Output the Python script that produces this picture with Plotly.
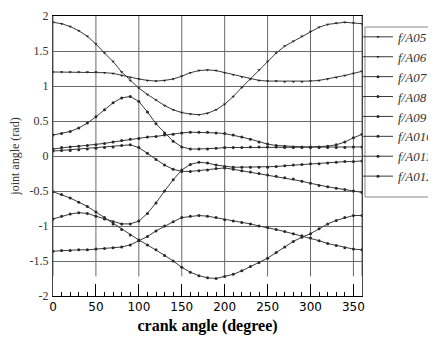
import plotly.graph_objects as go

crank = list(range(0, 361, 10))

theta5 = [1.91, 1.89, 1.85, 1.79, 1.71, 1.60, 1.47, 1.35, 1.20, 1.08, 0.97, 0.88, 0.80, 0.72, 0.66, 0.62, 0.60, 0.59, 0.61,
          0.66, 0.74, 0.85, 0.98, 1.10, 1.23, 1.35, 1.47, 1.57, 1.64, 1.71, 1.78, 1.84, 1.88, 1.90, 1.91, 1.90, 1.89]
theta6 = [1.20, 1.20, 1.20, 1.20, 1.20, 1.20, 1.19, 1.18, 1.15, 1.12, 1.10, 1.08, 1.07, 1.08, 1.10, 1.14, 1.19, 1.22, 1.23,
          1.22, 1.19, 1.16, 1.13, 1.10, 1.08, 1.07, 1.07, 1.06, 1.06, 1.06, 1.07, 1.08, 1.10, 1.12, 1.15, 1.18, 1.21]
theta7 = [0.30, 0.32, 0.35, 0.40, 0.47, 0.56, 0.66, 0.76, 0.83, 0.85, 0.78, 0.63, 0.46, 0.33, 0.21, 0.13, 0.10, 0.10, 0.10,
          0.11, 0.12, 0.12, 0.12, 0.13, 0.13, 0.13, 0.13, 0.12, 0.12, 0.12, 0.12, 0.12, 0.12, 0.12, 0.12, 0.13, 0.13]
theta8 = [-0.90, -0.86, -0.83, -0.81, -0.82, -0.86, -0.90, -0.94, -0.97, -0.97, -0.93, -0.82, -0.67, -0.50, -0.34, -0.20,
          -0.12, -0.09, -0.10, -0.13, -0.15, -0.16, -0.16, -0.16, -0.16, -0.16, -0.15, -0.14, -0.13, -0.12, -0.11, -0.11,
          -0.10, -0.09, -0.08, -0.08, -0.07]
theta9 = [0.10, 0.12, 0.13, 0.14, 0.15, 0.16, 0.18, 0.20, 0.22, 0.24, 0.25, 0.27, 0.28, 0.30, 0.31, 0.33, 0.34, 0.34, 0.34,
          0.33, 0.32, 0.30, 0.27, 0.24, 0.20, 0.17, 0.15, 0.14, 0.13, 0.13, 0.13, 0.13, 0.14, 0.16, 0.20, 0.26, 0.31]
theta10 = [0.07, 0.08, 0.08, 0.09, 0.10, 0.11, 0.12, 0.13, 0.15, 0.16, 0.12, 0.04, -0.05, -0.13, -0.19, -0.22, -0.22, -0.21,
           -0.20, -0.18, -0.17, -0.19, -0.21, -0.23, -0.25, -0.27, -0.29, -0.31, -0.33, -0.36, -0.39, -0.42, -0.44, -0.46,
           -0.48, -0.50, -0.52]
theta11 = [-0.51, -0.55, -0.60, -0.66, -0.72, -0.80, -0.88, -0.97, -1.05, -1.13, -1.20, -1.27, -1.34, -1.42, -1.50, -1.59,
           -1.66, -1.71, -1.74, -1.75, -1.72, -1.69, -1.64, -1.58, -1.52, -1.46, -1.38, -1.30, -1.22, -1.16, -1.11, -1.04,
           -0.97, -0.92, -0.88, -0.85, -0.85]
theta12 = [-1.36, -1.35, -1.35, -1.34, -1.34, -1.33, -1.32, -1.31, -1.30, -1.27, -1.21, -1.15, -1.07, -1.00, -0.94, -0.88,
           -0.86, -0.85, -0.86, -0.88, -0.91, -0.93, -0.95, -0.97, -1.00, -1.02, -1.05, -1.08, -1.11, -1.14, -1.17, -1.21,
           -1.25, -1.28, -1.31, -1.33, -1.34]

series_names = ["f/A05", "f/A06", "f/A07", "f/A08", "f/A09", "f/A010", "f/A011", "f/A012"]
series_values = [theta5, theta6, theta7, theta8, theta9, theta10, theta11, theta12]
series_symbols = ["triangle-down", "triangle-down", "circle", "circle", "circle", "circle", "circle", "circle"]

x_ticks = [0, 50, 100, 150, 200, 250, 300, 350]
y_ticks = [-2, -1.5, -1, -0.5, 0, 0.5, 1, 1.5, 2]
y_tick_labels = ["-2", "-1.5", "-1", "-0.5", "0", "0.5", "1", "1.5", "2"]

fig = go.Figure()
for name, vals, sym in zip(series_names, series_values, series_symbols):
    fig.add_trace(go.Scatter(
        x=crank, y=vals, name=name, mode="lines+markers",
        line=dict(color="#3a3a3a", width=1),
        marker=dict(color="#2a2a2a", size=3, symbol=sym),
    ))

grid_col = "#6a6a6a"
shapes = []
for xv in x_ticks + [360]:
    shapes.append(dict(type="line", xref="x", yref="y", x0=xv, x1=xv, y0=-1.72, y1=2,
                       line=dict(color=grid_col, width=1), layer="below"))
# legend frame
shapes.append(dict(type="rect", xref="paper", yref="paper", x0=1.0097, x1=1.4, y0=0.3536, y1=0.9607,
                   line=dict(color="#888888", width=1), fillcolor="rgba(0,0,0,0)", layer="above"))

fig.update_layout(
    width=428, height=332,
    margin=dict(l=45, r=74, t=8, b=44, autoexpand=False),
    paper_bgcolor="white", plot_bgcolor="white",
    shapes=shapes,
    showlegend=True,
    legend=dict(
        x=0.987, y=0.979, xanchor="left", yanchor="top",
        borderwidth=0, bgcolor="rgba(0,0,0,0)",
        font=dict(family="Liberation Serif", size=13, color="#333333", style="italic"),
        itemwidth=30, tracegroupgap=0,
    ),
    xaxis=dict(
        range=[0, 360], tickmode="array", tickvals=x_ticks,
        ticktext=[str(v) for v in x_ticks], automargin=False,
        showgrid=False, zeroline=False,
        showline=True, linecolor="black", linewidth=1, mirror=True,
        ticks="inside", ticklen=12, tickcolor="black",
        minor=dict(ticks="inside", ticklen=4, dtick=10, tickcolor="black", showgrid=False),
        tickfont=dict(family="DejaVu Sans", size=12, color="black"),
        title=dict(text="crank angle (degree)", standoff=6,
                   font=dict(family="Liberation Serif", size=16, color="black", weight="bold")),
    ),
    yaxis=dict(
        range=[-2, 2], tickmode="array", tickvals=y_ticks, ticktext=y_tick_labels,
        automargin=False,
        showgrid=True, gridcolor=grid_col, gridwidth=1, zeroline=False,
        showline=True, linecolor="#444444", linewidth=1, mirror=True,
        ticks="", ticklabelstandoff=1,
        tickfont=dict(family="Liberation Serif", size=12, color="#333333"),
        title=dict(text="joint angle (rad)", standoff=12,
                   font=dict(family="Liberation Serif", size=12, color="#333333")),
    ),
)

fig.write_html("out.html")
